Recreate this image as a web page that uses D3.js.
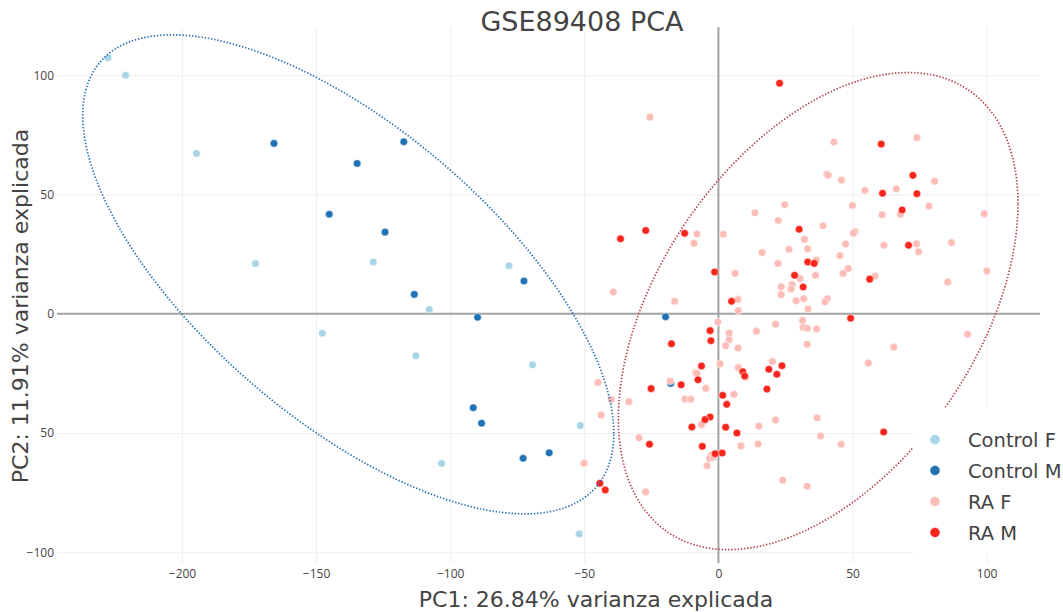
<!DOCTYPE html>
<html>
<head>
<meta charset="utf-8">
<script src="https://cdn.jsdelivr.net/npm/d3@7"></script>
<style>
  html, body { margin: 0; padding: 0; background: #fff; }
  svg { display: block; font-family: "Open Sans", Verdana, Arial, sans-serif; }
  .big { font-family: "DejaVu Sans", Verdana, sans-serif; }
</style>
</head>
<body>
<svg id="chart" width="1063" height="612"></svg>
<script>
// ---- Data ----
const titleText = "GSE89408 PCA";
const xTitle = "PC1: 26.84% varianza explicada";
const yTitle = "PC2: 11.91% varianza explicada";

const groups = ["Control F", "Control M", "RA F", "RA M"];
const groupColors = ["#a8d5e6", "#2171b5", "#fcbcb8", "#f8251c"];

const controlF = [
  [-227.6,107.3],[-221.0,100.0],[-194.6,67.2],[-172.6,21.0],[-147.7,-8.2],[-128.7,21.7],
  [-78.1,20.1],[-107.8,1.8],[-112.8,-17.6],[-69.3,-21.4],[-51.5,-46.9],[-103.2,-62.7],[-51.9,-92.3]
];
const controlM = [
  [-165.7,71.4],[-134.7,63.0],[-145.1,41.7],[-117.3,72.1],[-124.3,34.2],[-72.5,13.7],[-113.4,8.1],
  [-89.8,-1.5],[-91.4,-39.4],[-88.3,-45.9],[-72.8,-60.6],[-63.1,-58.3],[-19.7,-1.3],[-17.8,-29.2]
];
const raF = [
  [-25.5,82.4],[-8.0,33.4],[1.8,33.3],[-9.1,29.5],[6.2,16.9],[-39.2,9.1],[-16.3,5.2],[7.3,6.0],
  [43.1,72.0],[40.4,58.6],[40.9,58.0],[45.9,56.0],[54.6,51.7],[50.0,45.4],[61.0,41.5],[24.7,45.7],
  [13.6,42.3],[22.3,39.1],[39.0,36.9],[32.1,31.2],[50.9,34.4],[50.3,33.7],[33.3,27.2],[26.3,27.0],
  [16.3,25.6],[47.4,29.2],[45.3,24.3],[36.5,22.5],[22.2,21.1],[48.4,18.9],[46.5,16.9],[36.2,16.1],
  [30.5,14.7],[27.5,12.2],[27.1,10.4],[23.4,11.3],[23.4,8.0],[29.0,5.4],[31.8,6.3],[40.6,6.3],
  [39.7,5.0],[33.4,2.0],[58.4,15.8],
  [74.0,73.8],[80.6,55.5],[66.3,52.3],[78.5,45.1],[67.9,41.7],[99.1,41.9],[61.7,28.7],[73.9,29.3],
  [74.6,26.0],[86.9,29.8],[100.1,17.9],[85.5,13.3],
  [7.4,1.3],[92.9,-8.6],[65.4,-14.0],[55.9,-20.7],[21.3,-4.4],[31.4,-2.8],[31.6,-5.7],[33.1,-6.1],
  [36.6,-6.4],[33.1,-12.8],[14.2,-7.3],[4.0,-8.1],[4.0,-10.9],[2.7,-13.4],[7.3,-14.4],[20.1,-20.0],
  [7.4,-22.6],[10.1,-26.7],[5.8,-33.8],[36.8,-43.6],[21.3,-44.6],[15.1,-47.1],[38.1,-51.3],[45.8,-54.7],
  [14.8,-54.6],[8.4,-55.4],[24.0,-69.8],[33.1,-72.3],
  [-0.2,-3.5],[0.6,-21.0],[-8.5,-24.7],[-8.0,-25.1],[-18.0,-28.2],[-4.7,-31.3],[-12.5,-35.8],[-10.3,-35.9],
  [-40.0,-36.0],[-33.4,-36.9],[-43.7,-42.5],[-6.3,-46.5],[-29.6,-52.0],[-2.7,-59.3],[-3.3,-60.6],[-1.9,-60.2],
  [-4.2,-63.7],[-27.1,-74.7],[-44.9,-28.8],[-50.1,-62.7]
];
const raM = [
  [-36.5,31.4],[-27.1,34.9],[-12.6,33.7],[-1.4,17.5],[4.9,5.2],
  [22.8,96.6],[60.7,71.1],[30.1,35.4],[33.3,21.7],[35.7,21.1],[28.4,16.1],[31.6,11.2],[56.4,14.5],
  [72.5,58.0],[61.2,50.5],[74.0,50.3],[68.5,43.5],[70.9,28.7],
  [49.3,-1.9],[23.7,-21.8],[18.8,-23.3],[21.8,-25.4],[9.1,-24.3],[9.8,-26.1],[18.1,-31.6],[1.6,-34.2],
  [3.1,-38.0],[2.7,-47.6],[6.9,-50.0],[61.6,-49.6],[1.4,-58.4],
  [-3.1,-7.1],[-2.8,-11.3],[-17.5,-12.6],[-6.3,-21.9],[-7.6,-27.7],[-13.9,-29.8],[-25.1,-31.4],
  [-3.1,-43.3],[-5.0,-44.4],[-9.9,-47.5],[-25.7,-54.7],[-6.0,-55.6],[-1.2,-58.7],[-44.2,-71.1],[-42.2,-73.9]
];
const groupData = [controlF, controlM, raF, raM];

// confidence ellipses (data units): centre, spread along x / y, covariance
const ellipseNames = ["Control", "RA"];
const ellipseCx = [-138, 37.2];
const ellipseCy = [16.5, 1.1];
const ellipseSx = [99, 74.5];
const ellipseSy = [100.4, 100];
const ellipseCov = [-6600, 3350];
const ellipseColors = ["#2a6db3", "#b3424c"];

const xTicks = [-200, -150, -100, -50, 0, 50, 100];
const xTickLabels = ["\u2212200", "\u2212150", "\u2212100", "\u221250", "0", "50", "100"];
const yTicks = [-100, -50, 0, 50, 100];
const yTickLabels = ["\u2212100", "50", "0", "50", "100"];

// ---- Layout ----
const svg = d3.select("#chart");
const plot = { left: 57, right: 1040, top: 27, bottom: 563 };
const x = d3.scaleLinear().domain([-246.6, 119.9]).range([plot.left, plot.right]);
const y = d3.scaleLinear().domain([-104.5, 120.2]).range([plot.bottom, plot.top]);

// grid
const gx = svg.append("g").attr("transform", `translate(0,${plot.bottom})`)
  .call(d3.axisBottom(x).tickValues(xTicks.filter(d => d !== 0)).tickSize(-(plot.bottom - plot.top)).tickFormat(""));
gx.select(".domain").remove();
gx.selectAll("line").attr("stroke", "#eeeeee").attr("stroke-width", 1);

const gy = svg.append("g").attr("transform", `translate(${plot.left},0)`)
  .call(d3.axisLeft(y).tickValues(yTicks.filter(d => d !== 0)).tickSize(-(plot.right - plot.left)).tickFormat(""));
gy.select(".domain").remove();
gy.selectAll("line").attr("stroke", "#eeeeee").attr("stroke-width", 1);

// zero lines
svg.append("line").attr("x1", plot.left).attr("x2", plot.right).attr("y1", y(0)).attr("y2", y(0))
  .attr("stroke", "#a3a3a3").attr("stroke-width", 2);
svg.append("line").attr("x1", x(0)).attr("x2", x(0)).attr("y1", plot.top).attr("y2", plot.bottom)
  .attr("stroke", "#a3a3a3").attr("stroke-width", 2);

// tick labels
const axX = svg.append("g").attr("transform", `translate(0,${plot.bottom})`)
  .call(d3.axisBottom(x).tickValues(xTicks).tickSize(0).tickPadding(6).tickFormat((d, i) => xTickLabels[i]));
axX.select(".domain").remove();
axX.selectAll("text").attr("font-size", 12).attr("fill", "#444").style("font-family", "'Open Sans', Verdana, Arial, sans-serif");

const axY = svg.append("g").attr("transform", `translate(${plot.left - 3},0)`)
  .call(d3.axisLeft(y).tickValues(yTicks).tickSize(0).tickPadding(0).tickFormat((d, i) => yTickLabels[i]));
axY.select(".domain").remove();
axY.selectAll("text").attr("font-size", 12).attr("fill", "#444").style("font-family", "'Open Sans', Verdana, Arial, sans-serif");

// points
groups.forEach((g, gi) => {
  svg.append("g").selectAll("circle").data(groupData[gi]).join("circle")
    .attr("cx", d => x(d[0])).attr("cy", d => y(d[1])).attr("r", 3.8)
    .attr("fill", groupColors[gi]).attr("stroke", "#fff").attr("stroke-width", 0.5);
});

// ellipses
ellipseNames.forEach((n, i) => {
  const a = ellipseSx[i];
  const ux = a, uy = ellipseCov[i] / a;
  const vy = Math.sqrt(ellipseSy[i] * ellipseSy[i] - uy * uy);
  const pts = d3.range(0, 361, 1).map(deg => {
    const t = deg * Math.PI / 180;
    return [ellipseCx[i] + ux * Math.cos(t), ellipseCy[i] + uy * Math.cos(t) + vy * Math.sin(t)];
  });
  svg.append("path")
    .attr("d", d3.line().x(d => x(d[0])).y(d => y(d[1]))(pts))
    .attr("fill", "none").attr("stroke", ellipseColors[i]).attr("stroke-width", 1.7)
    .attr("stroke-dasharray", "1.4,1.8");
});

// title
svg.append("text").attr("class", "big").attr("x", 582).attr("y", 31).attr("text-anchor", "middle")
  .attr("font-size", 27).attr("fill", "#444").text(titleText);
// axis titles
svg.append("text").attr("class", "big").attr("x", 596).attr("y", 607).attr("text-anchor", "middle")
  .attr("font-size", 22).attr("fill", "#444").text(xTitle);
svg.append("text").attr("class", "big").attr("transform", `translate(28,306) rotate(-90)`).attr("text-anchor", "middle")
  .attr("font-size", 22).attr("fill", "#444").text(yTitle);

// legend
const leg = svg.append("g");
leg.append("rect").attr("x", 913).attr("y", 408).attr("width", 150).attr("height", 146).attr("fill", "#fff");
const legY = d3.scalePoint().domain(groups).range([439.5, 532.5]);
groups.forEach((g, i) => {
  leg.append("circle").attr("cx", 935).attr("cy", legY(g)).attr("r", 5)
    .attr("fill", groupColors[i]).attr("stroke", "#fff").attr("stroke-width", 0.5);
  leg.append("text").attr("class", "big").attr("x", 968).attr("y", legY(g)).attr("dy", "0.36em")
    .attr("font-size", 19.5).attr("fill", "#444").text(g);
});
</script>
</body>
</html>
